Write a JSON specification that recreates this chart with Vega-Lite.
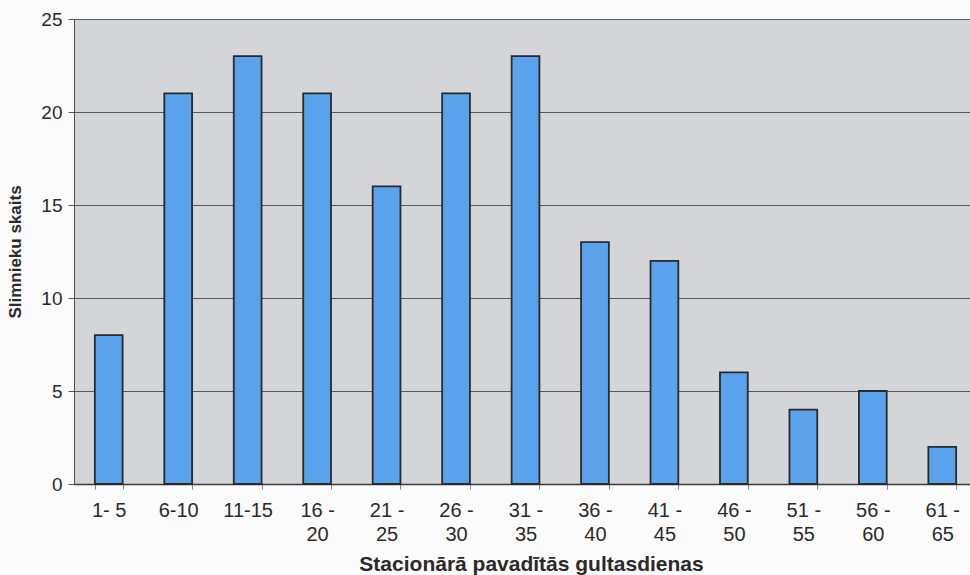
{
  "$schema": "https://vega.github.io/schema/vega-lite/v6.json",
  "autosize": "none",
  "width": 903,
  "height": 465,
  "padding": {"left": 74, "top": 19, "right": 0, "bottom": 91},
  "background": "#fbfbfb",
  "config": {
    "font": "Liberation Sans",
    "view": {"fill": "#d4d5d9", "stroke": "#4a4a4a", "strokeWidth": 1}
  },
  "data": {
    "values": [
      {"grupa": "1- 5", "skaits": 8},
      {"grupa": "6-10", "skaits": 21},
      {"grupa": "11-15", "skaits": 23},
      {"grupa": "16 -|20", "skaits": 21},
      {"grupa": "21 -|25", "skaits": 16},
      {"grupa": "26 -|30", "skaits": 21},
      {"grupa": "31 -|35", "skaits": 23},
      {"grupa": "36 -|40", "skaits": 13},
      {"grupa": "41 -|45", "skaits": 12},
      {"grupa": "46 -|50", "skaits": 6},
      {"grupa": "51 -|55", "skaits": 4},
      {"grupa": "56 -|60", "skaits": 5},
      {"grupa": "61 -|65", "skaits": 2}
    ]
  },
  "mark": {"type": "bar", "color": "#5aa2ec", "stroke": "#2a2a2a", "strokeWidth": 1.8},
  "encoding": {
    "x": {
      "field": "grupa",
      "type": "nominal",
      "sort": null,
      "scale": {"paddingInner": 0.6, "paddingOuter": 0.3},
      "axis": {
        "title": "Stacionārā pavadītās gultasdienas",
        "titleFont": "Liberation Sans",
        "titleFontSize": 21,
        "titleFontWeight": "bold",
        "titleColor": "#2a2a2a",
        "titleX": 457,
        "titleY": 80,
        "titleBaseline": "middle",
        "labelExpr": "datum.value ? split(datum.value, '|') : ''",
        "labelAngle": 0,
        "labelFontSize": 20,
        "labelColor": "#2a2a2a",
        "labelLineHeight": 24,
        "labelPadding": 11,
        "tickBand": "extent",
        "tickSize": 5,
        "tickColor": "#6f8fb0",
        "domainColor": "#3a3a3a",
        "domainWidth": 1.5,
        "grid": false
      }
    },
    "y": {
      "field": "skaits",
      "type": "quantitative",
      "scale": {"domain": [0, 25], "nice": false},
      "axis": {
        "title": "Slimnieku skaits",
        "titleFont": "Liberation Sans",
        "titleFontSize": 17,
        "titleFontWeight": "bold",
        "titleColor": "#2a2a2a",
        "titleX": -50,
        "values": [0, 5, 10, 15, 20, 25],
        "labelFontSize": 19,
        "labelColor": "#2a2a2a",
        "labelPadding": 6,
        "tickSize": 6,
        "tickColor": "#555555",
        "domainColor": "#4a4a4a",
        "grid": true,
        "gridColor": "#5a5a5a",
        "gridWidth": 1
      }
    }
  }
}
